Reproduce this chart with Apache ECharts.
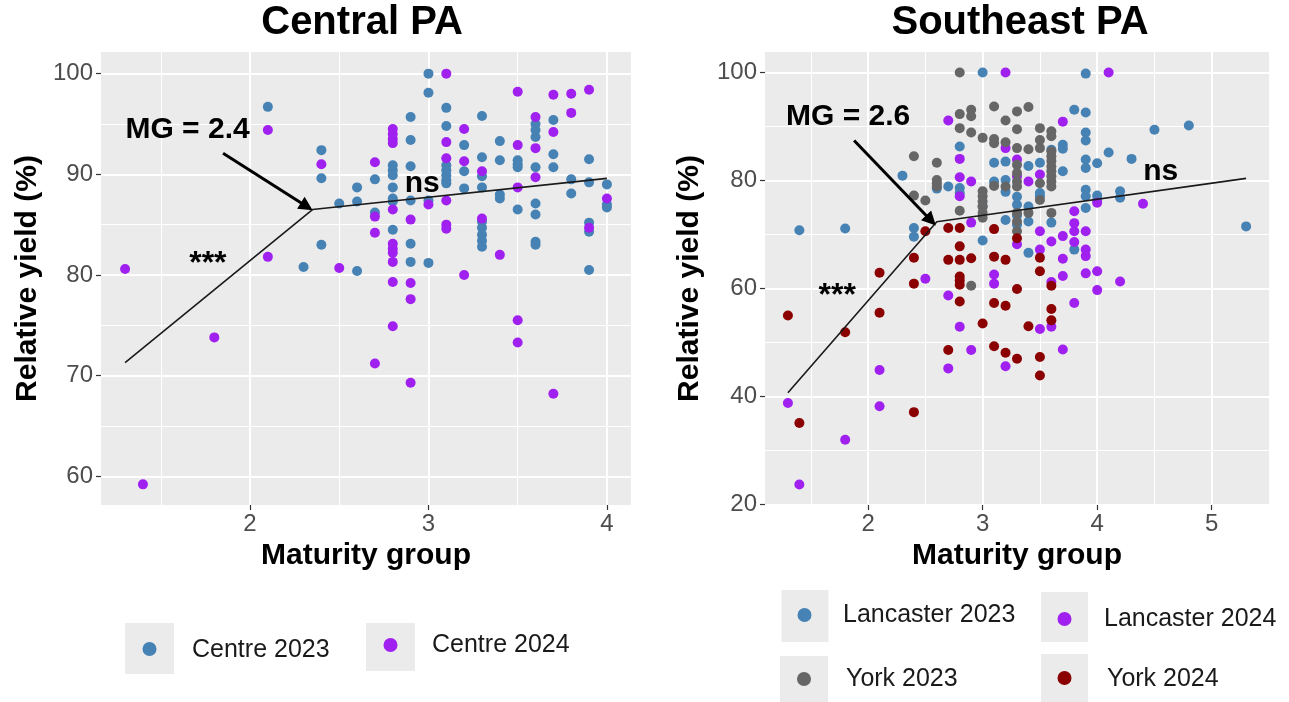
<!DOCTYPE html>
<html>
<head>
<meta charset="utf-8">
<title>Relative yield by maturity group</title>
<script src="https://cdn.jsdelivr.net/npm/echarts@6/dist/echarts.min.js"></script>
<style>
  html, body { margin: 0; padding: 0; background: #ffffff; }
  #chart { width: 1289px; height: 702px; }
</style>
</head>
<body>
<div id="chart"></div>
<script>
// ---------- Central PA: [maturity group, relative yield %] ----------
const centre2023 = [
  [2.1,96.7],[2.3,80.8],[2.4,92.4],[2.4,89.6],[2.4,83.0],[2.5,87.1],[2.6,88.7],[2.6,87.3],[2.6,80.4],
  [2.7,89.5],[2.7,86.2],[2.8,90.9],[2.8,90.4],[2.8,89.9],[2.8,88.7],[2.8,87.6],[2.8,87.3],[2.8,84.5],
  [2.9,95.7],[2.9,93.4],[2.9,90.8],[2.9,87.4],[2.9,83.1],[2.9,81.3],[3.0,100],[3.0,98.1],[3.0,87.4],[3.0,81.2],
  [3.1,96.6],[3.1,94.8],[3.1,90.9],[3.1,90.4],[3.1,89.9],[3.1,89.4],[3.1,89.1],[3.2,92.9],[3.2,90.3],[3.2,88.6],
  [3.3,95.8],[3.3,91.7],[3.3,89.8],[3.3,88.7],[3.3,85.3],[3.3,84.7],[3.3,84.0],[3.3,83.4],[3.3,82.8],
  [3.4,93.3],[3.4,91.4],[3.4,88.0],[3.4,87.6],[3.5,91.4],[3.5,91.0],[3.5,90.7],[3.5,86.5],
  [3.6,95.0],[3.6,94.4],[3.6,93.7],[3.6,90.7],[3.6,87.1],[3.6,86.0],[3.6,83.3],[3.6,83.0],
  [3.7,95.4],[3.7,92.0],[3.7,90.7],[3.8,89.5],[3.8,88.1],[3.9,91.5],[3.9,89.2],[3.9,85.2],[3.9,84.3],[3.9,80.5],
  [4.0,89.0],[4.0,87.0],[4.0,86.7]
];
const centre2024 = [
  [1.3,80.6],[1.4,59.2],[1.8,73.8],[2.1,94.4],[2.1,81.8],[2.4,91.0],[2.5,80.7],[2.7,91.2],[2.7,85.8],[2.7,84.2],[2.7,71.2],
  [2.8,94.5],[2.8,94.0],[2.8,93.5],[2.8,93.1],[2.8,86.5],[2.8,83.1],[2.8,82.6],[2.8,82.2],[2.8,81.3],[2.8,79.3],[2.8,74.9],
  [2.9,85.5],[2.9,79.2],[2.9,77.6],[2.9,69.3],[3.0,87.0],[3.1,100],[3.1,93.2],[3.1,91.6],[3.1,87.4],[3.1,85.0],[3.1,84.6],
  [3.2,94.5],[3.2,91.3],[3.2,80.0],[3.3,90.3],[3.3,85.6],[3.4,82.0],[3.5,98.2],[3.5,92.9],[3.5,88.7],[3.5,75.5],[3.5,73.3],
  [3.6,95.7],[3.6,92.6],[3.6,89.7],[3.7,97.9],[3.7,94.2],[3.7,68.2],[3.8,98.0],[3.8,96.1],[3.9,98.4],[3.9,84.7],[4.0,87.6]
];
// segmented fit: start, breakpoint, end
const centralFit = [[1.3,71.3],[2.35,86.5],[4.0,89.6]];

// ---------- Southeast PA ----------
const lancaster2023 = [
  [1.4,70.8],[1.8,71.1],[2.3,80.9],[2.4,71.2],[2.4,69.6],[2.6,78.5],[2.7,78.9],[2.8,86.3],[2.8,78.6],[2.8,77.7],
  [3.0,100],[3.0,75.2],[3.0,68.9],[3.1,83.3],[3.1,79.8],[3.2,83.5],[3.2,80.1],[3.2,77.9],[3.2,72.7],
  [3.3,77.0],[3.3,75.5],[3.3,73.5],[3.3,71.8],[3.4,82.7],[3.4,75.2],[3.4,72.4],[3.4,66.6],[3.5,83.3],[3.5,77.7],[3.5,77.1],
  [3.6,85.7],[3.6,72.2],[3.7,86.6],[3.7,85.9],[3.7,81.7],[3.8,93.1],[3.8,67.2],
  [3.9,99.8],[3.9,92.6],[3.9,88.9],[3.9,87.4],[3.9,83.9],[3.9,82.3],[3.9,78.3],[3.9,77.1],[3.9,74.9],
  [4.0,83.2],[4.0,77.2],[4.0,76.4],[4.1,85.2],[4.2,78.0],[4.2,76.8],[4.3,84.0],[4.5,89.4],[4.8,90.2],[5.3,71.5]
];
const lancaster2024 = [
  [1.3,38.8],[1.4,23.7],[1.8,32.0],[2.1,44.9],[2.1,38.2],[2.5,61.8],[2.7,91.1],[2.7,58.7],[2.7,45.2],
  [2.8,84.0],[2.8,80.6],[2.8,77.1],[2.8,52.9],[2.9,79.8],[2.9,72.2],[2.9,48.6],[3.1,62.6],[3.1,60.9],
  [3.2,100],[3.2,86.0],[3.2,45.6],[3.3,83.9],[3.3,80.8],[3.3,68.2],[3.4,79.8],[3.5,81.1],[3.5,70.6],[3.5,67.2],[3.5,52.5],
  [3.6,68.7],[3.6,61.2],[3.6,52.9],[3.7,90.9],[3.7,69.7],[3.7,65.5],[3.7,62.3],[3.7,48.7],
  [3.8,74.3],[3.8,72.1],[3.8,70.6],[3.8,68.6],[3.8,57.3],[3.9,70.6],[3.9,67.2],[3.9,66.0],[3.9,62.8],
  [4.0,75.9],[4.0,63.2],[4.0,59.7],[4.1,100],[4.2,61.3],[4.4,75.7]
];
const york2023 = [
  [2.4,84.5],[2.4,77.2],[2.5,76.3],[2.6,83.3],[2.6,80.1],[2.6,79.5],[2.6,78.9],[2.8,100],[2.8,92.3],[2.8,89.7],[2.8,74.4],
  [2.9,93.1],[2.9,91.9],[2.9,88.9],[2.9,60.5],[3.0,87.9],[3.0,78.0],[3.0,77.1],[3.0,76.1],[3.0,75.2],[3.0,74.0],[3.0,73.1],
  [3.1,93.7],[3.1,87.7],[3.1,86.9],[3.1,79.0],[3.2,91.1],[3.2,87.1],[3.2,78.9],
  [3.3,92.8],[3.3,89.5],[3.3,86.0],[3.3,82.9],[3.3,81.4],[3.3,79.8],[3.3,78.9],[3.3,74.0],[3.3,72.4],[3.3,70.6],
  [3.4,93.6],[3.4,85.8],[3.4,74.0],[3.5,89.7],[3.5,87.5],[3.5,86.0],[3.5,79.5],[3.5,76.4],
  [3.6,89.1],[3.6,88.2],[3.6,85.4],[3.6,84.5],[3.6,83.6],[3.6,82.6],[3.6,81.7],[3.6,80.8],[3.6,79.8],[3.6,78.9],[3.6,74.0]
];
const york2024 = [
  [1.3,55.0],[1.4,35.1],[1.8,51.9],[2.1,62.9],[2.1,55.5],[2.4,65.7],[2.4,60.9],[2.4,37.1],[2.5,70.6],
  [2.7,71.2],[2.7,65.3],[2.7,48.6],[2.8,71.2],[2.8,67.8],[2.8,65.3],[2.8,62.2],[2.8,61.5],[2.8,60.7],[2.8,57.6],
  [2.9,65.6],[3.0,53.5],[3.1,71.0],[3.1,65.9],[3.1,57.3],[3.1,49.3],[3.2,65.3],[3.2,56.8],[3.2,48.1],
  [3.3,69.3],[3.3,59.9],[3.3,47.0],[3.4,53.0],[3.5,65.7],[3.5,63.2],[3.5,47.3],[3.5,43.9],
  [3.6,60.5],[3.6,56.2],[3.6,54.1]
];
const southeastFit = [[1.3,40.7],[2.6,72.35],[5.3,80.4]];

// axis ticks
const centralXTicks = [2, 3, 4];
const centralXMinor = [1.5, 2.5, 3.5];
const centralYTicks = [60, 70, 80, 90, 100];
const centralYMinor = [65, 75, 85, 95];
const southeastXTicks = [2, 3, 4, 5];
const southeastXMinor = [1.5, 2.5, 3.5, 4.5];
const southeastYTicks = [20, 40, 60, 80, 100];
const southeastYMinor = [30, 50, 70, 90];

const COLORS = { blue: '#4682B4', purple: '#A020F0', grey: '#666666', darkred: '#8B0000' };
const FONT = "'Liberation Sans', Arial, Helvetica, sans-serif";

function majorAxis(dim, gridIndex, min, max, ticks, name, nameGap) {
  return {
    type: 'value', gridIndex, min, max,
    position: dim === 'x' ? 'bottom' : 'left',
    axisLine: { show: false },
    axisTick: { show: true, length: 5, customValues: ticks, lineStyle: { color: '#333333', width: 1.2 } },
    axisLabel: { customValues: ticks, color: '#4D4D4D', fontSize: 24, fontFamily: FONT, margin: dim === 'x' ? 7 : 8 },
    splitLine: { show: true, lineStyle: { color: '#ffffff', width: 2 } },
    name, nameLocation: 'middle', nameGap,
    nameTextStyle: { fontSize: 30, fontWeight: 'bold', color: '#000000', fontFamily: FONT }
  };
}
function minorAxis(dim, gridIndex, min, max, ticks) {
  return {
    type: 'value', gridIndex, min, max,
    position: dim === 'x' ? 'bottom' : 'left',
    axisLine: { show: false },
    axisTick: { show: false, customValues: ticks },
    axisLabel: { show: false },
    splitLine: { show: true, lineStyle: { color: '#ffffff', width: 1 } }
  };
}

function points(name, data, color, xi, yi) {
  return {
    name, type: 'scatter', data, xAxisIndex: xi, yAxisIndex: yi,
    symbol: 'circle', symbolSize: 10,
    itemStyle: { color, opacity: 1 },
    silent: true, z: 3
  };
}
function fitLine(data, xi, yi) {
  return {
    type: 'line', data, xAxisIndex: xi, yAxisIndex: yi,
    symbol: 'none', lineStyle: { color: '#1a1a1a', width: 1.6 }, silent: true, z: 5
  };
}
function arrow(coords, xi, yi) {
  return {
    type: 'lines', coordinateSystem: 'cartesian2d', xAxisIndex: xi, yAxisIndex: yi,
    data: [{ coords }], symbol: ['none', 'triangle'], symbolSize: 14,
    lineStyle: { color: '#000000', width: 3, opacity: 1 }, silent: true, z: 6
  };
}
function notes(items, xi, yi) {
  return {
    type: 'scatter', xAxisIndex: xi, yAxisIndex: yi, symbolSize: 0, silent: true, z: 7,
    itemStyle: { color: '#000000' },
    data: items.map(d => ({ value: [d[0], d[1]], name: d[2], label: { fontSize: d[3] } })),
    label: {
      show: true, position: 'inside', formatter: '{b}', opacity: 1,
      color: '#000000', textBorderWidth: 0, fontWeight: 'bold', fontFamily: FONT
    }
  };
}

const chart = echarts.init(document.getElementById('chart'), null, { renderer: 'canvas' });

function legendKey(x, y, w, h, cx, cy, color, label, tx, ty) {
  return [
    { type: 'rect', shape: { x, y, width: w, height: h }, style: { fill: '#EBEBEB' }, silent: true },
    { type: 'circle', shape: { cx, cy, r: 7 }, style: { fill: color }, silent: true },
    { type: 'text', x: tx, y: ty, silent: true,
      style: { text: label, font: '25px ' + FONT, fill: '#1a1a1a',
               textAlign: 'left', align: 'left', textVerticalAlign: 'middle', verticalAlign: 'middle' } }
  ];
}
function heading(text, x) {
  return { type: 'text', x, y: 23, silent: true,
    style: { text, font: 'bold 40px ' + FONT, fill: '#000000',
             textAlign: 'center', align: 'center', textVerticalAlign: 'middle', verticalAlign: 'middle' } };
}

const option = {
  animation: false,
  backgroundColor: '#ffffff',
  grid: [
    { left: 101, top: 52, width: 530, height: 453, show: true, backgroundColor: '#EBEBEB', borderWidth: 0 },
    { left: 765, top: 52, width: 504, height: 453, show: true, backgroundColor: '#EBEBEB', borderWidth: 0 }
  ],
  xAxis: [
    majorAxis('x', 0, 1.165, 4.135, centralXTicks, 'Maturity group', 36),
    minorAxis('x', 0, 1.165, 4.135, centralXMinor),
    majorAxis('x', 1, 1.1, 5.5, southeastXTicks, 'Maturity group', 36),
    minorAxis('x', 1, 1.1, 5.5, southeastXMinor)
  ],
  yAxis: [
    majorAxis('y', 0, 57.15, 102.15, centralYTicks, 'Relative yield (%)', 58),
    minorAxis('y', 0, 57.15, 102.15, centralYMinor),
    majorAxis('y', 1, 19.9, 103.8, southeastYTicks, 'Relative yield (%)', 60),
    minorAxis('y', 1, 19.9, 103.8, southeastYMinor)
  ],
  series: [
    points('Centre 2023', centre2023, COLORS.blue, 0, 0),
    points('Centre 2024', centre2024, COLORS.purple, 0, 0),
    fitLine(centralFit, 0, 0),
    arrow([[1.849, 92.1], [2.318, 86.8]], 0, 0),
    notes([[1.65, 94.4, 'MG = 2.4', 30], [2.965, 89.1, 'ns', 30], [1.764, 81.1, '***', 32]], 0, 0),

    points('Lancaster 2023', lancaster2023, COLORS.blue, 2, 2),
    points('Lancaster 2024', lancaster2024, COLORS.purple, 2, 2),
    points('York 2023', york2023, COLORS.grey, 2, 2),
    points('York 2024', york2024, COLORS.darkred, 2, 2),
    fitLine(southeastFit, 2, 2),
    arrow([[1.878, 87.4], [2.549, 72.6]], 2, 2),
    notes([[1.826, 91.8, 'MG = 2.6', 30], [4.555, 81.6, 'ns', 30], [1.73, 58.5, '***', 32]], 2, 2)
  ],
  graphic: [
    heading('Central PA', 362),
    heading('Southeast PA', 1020),
    ...legendKey(125, 623, 49, 51, 149.5, 649, COLORS.blue, 'Centre 2023', 192, 650),
    ...legendKey(366, 623, 49, 48, 390.5, 645, COLORS.purple, 'Centre 2024', 432, 645),
    ...legendKey(781.5, 590, 47, 52, 804.5, 615, COLORS.blue, 'Lancaster 2023', 843, 615),
    ...legendKey(1041, 592, 47, 50, 1064.5, 619, COLORS.purple, 'Lancaster 2024', 1104, 619),
    ...legendKey(780, 656, 48, 46, 804, 679, COLORS.grey, 'York 2023', 846, 679),
    ...legendKey(1041, 654, 47, 48, 1064.5, 678, COLORS.darkred, 'York 2024', 1107, 679)
  ]
};

chart.setOption(option);
</script>
</body>
</html>
